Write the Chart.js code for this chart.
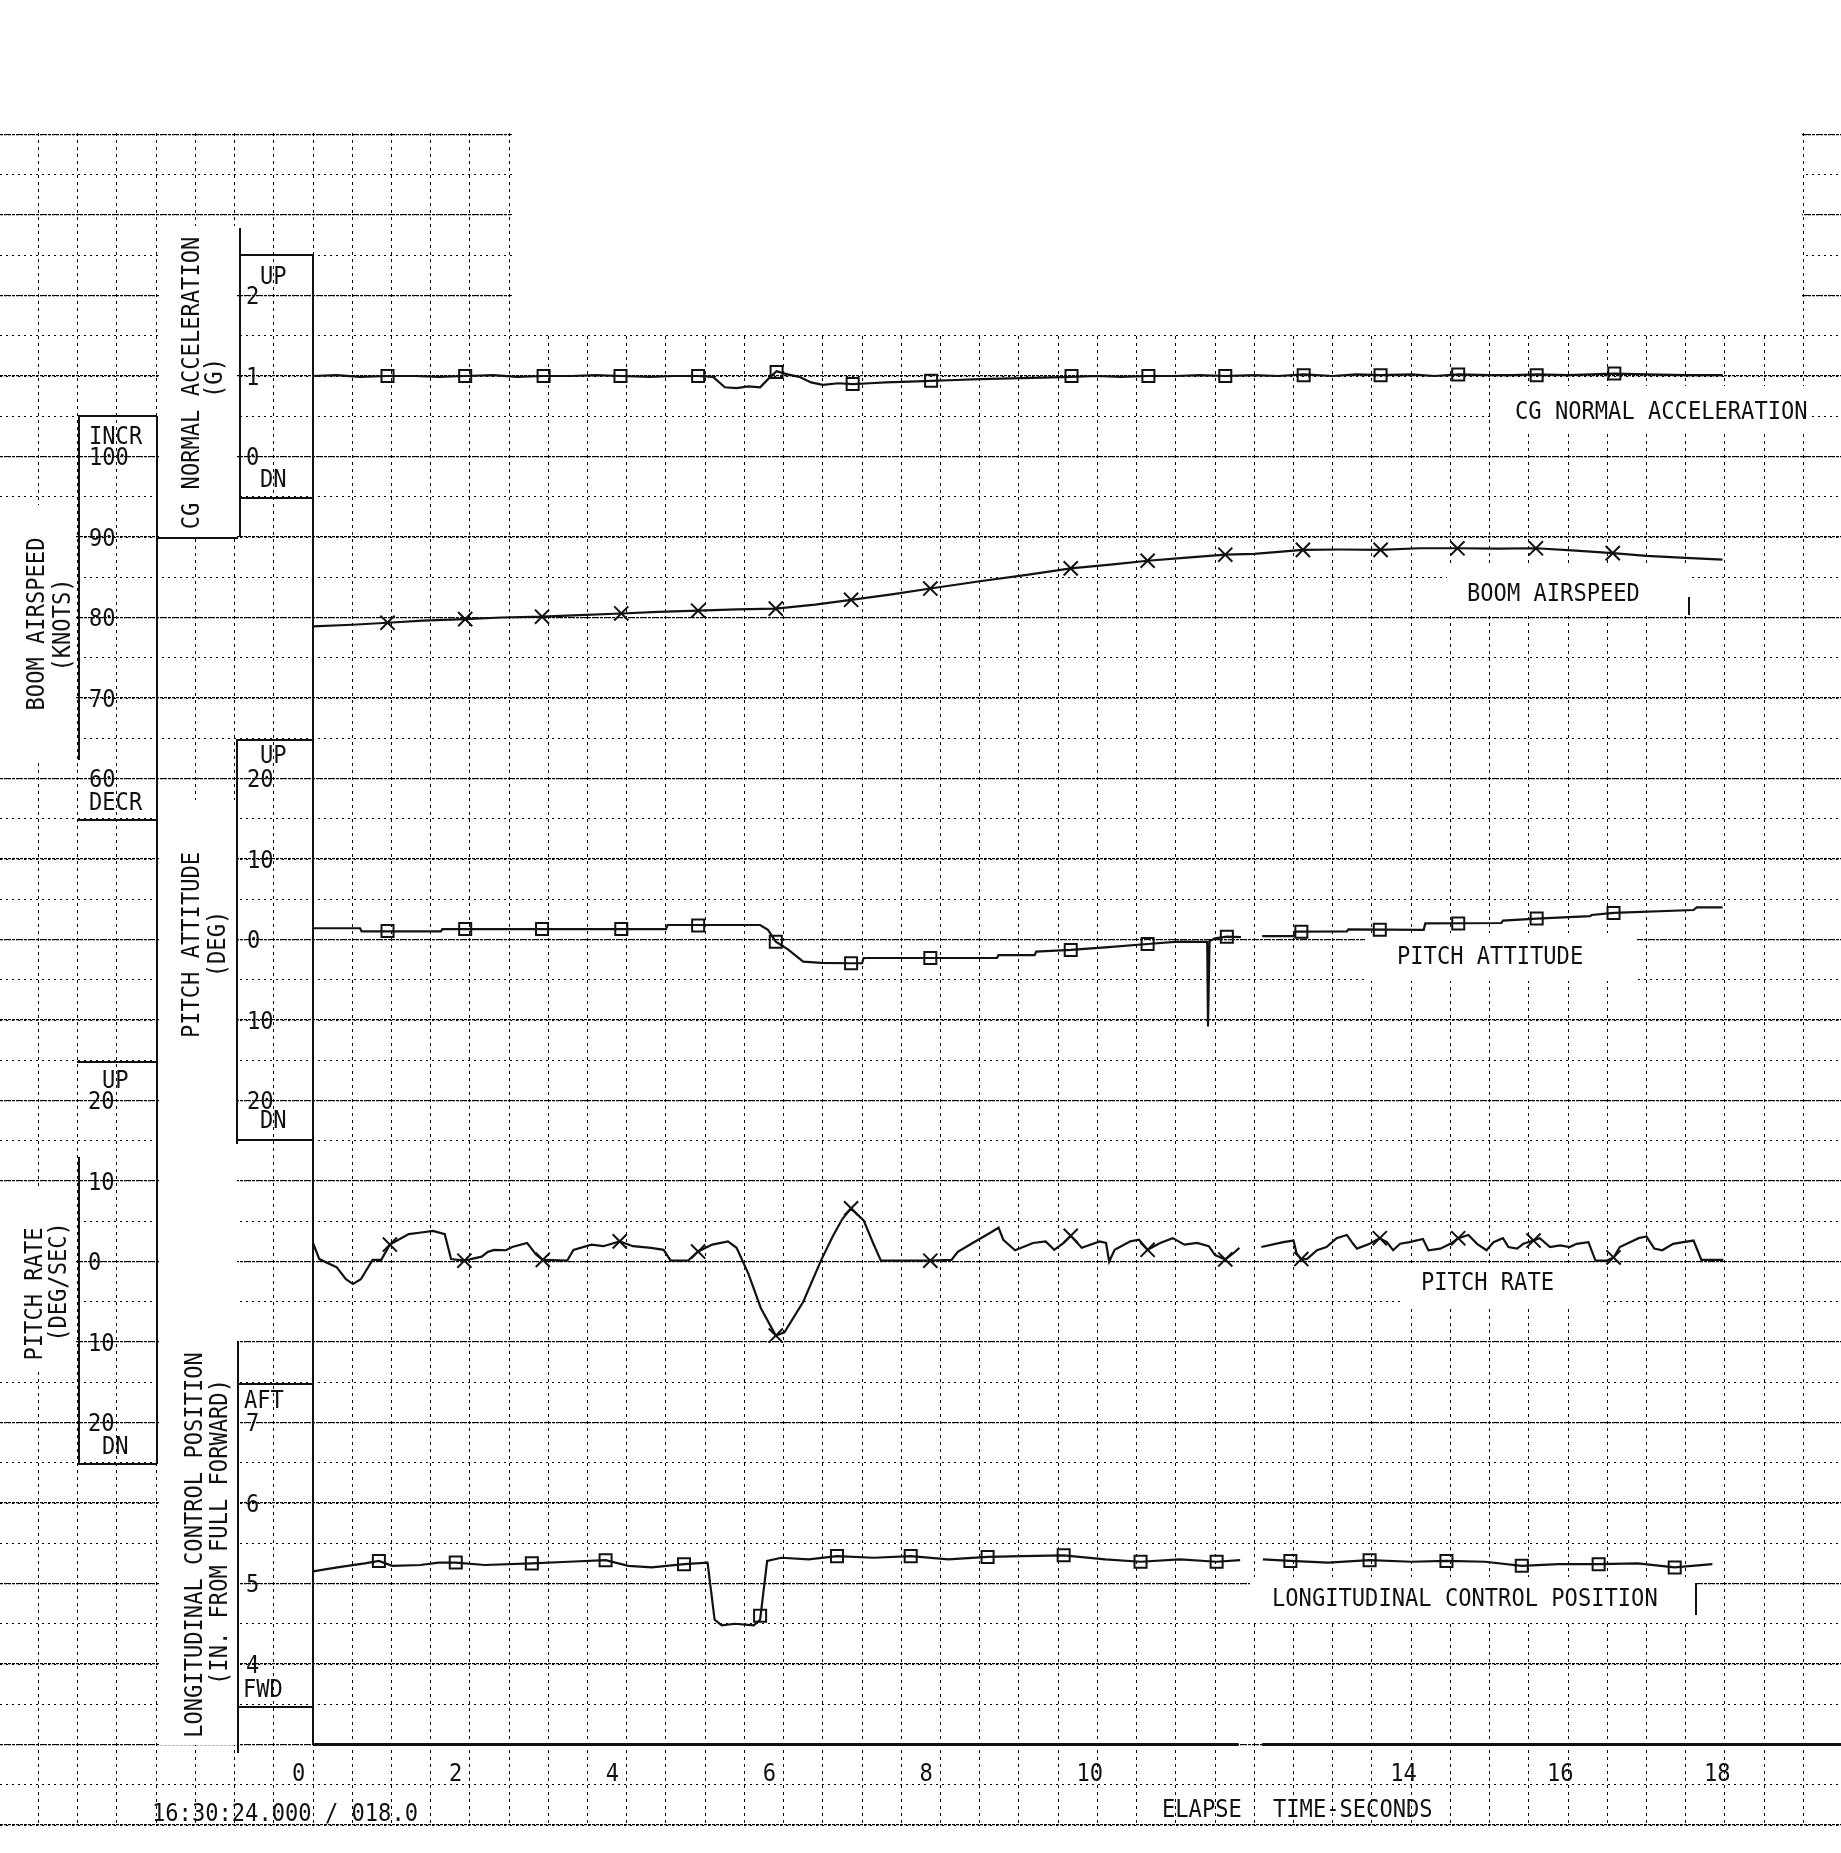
<!DOCTYPE html>
<html>
<head>
<meta charset="utf-8">
<script src="https://cdn.jsdelivr.net/npm/chart.js@4.4.0/dist/chart.umd.min.js"></script>
<style>
html, body { margin: 0; padding: 0; background: #fff; }
canvas { display: block; }
</style>
</head>
<body>
<canvas id="myChart" width="1841" height="1853"></canvas>
<script>
// elapsed time in seconds
const cgT = [0,0.3,0.6,0.95,1.3,1.6,1.94,2.3,2.6,2.94,3.3,3.6,3.92,4.3,4.6,4.91,5.1,5.25,5.4,5.55,5.7,5.82,5.91,6.05,6.2,6.35,6.5,6.7,6.88,7.1,7.3,7.6,7.88,8.2,8.5,8.9,9.3,9.67,10.0,10.3,10.65,11.0,11.3,11.63,12.0,12.3,12.63,13.0,13.3,13.61,14.0,14.3,14.6,15.0,15.3,15.6,16.0,16.3,16.59,17.0,17.5,17.97]
const cgV = [1.0,1.01,0.99,1.0,1.0,0.99,1.0,1.01,0.99,1.0,1.0,1.01,1.0,0.99,1.0,1.0,0.99,0.86,0.85,0.87,0.86,0.98,1.06,1.02,0.99,0.92,0.89,0.91,0.9,0.91,0.92,0.93,0.94,0.95,0.96,0.97,0.98,0.99,1.0,0.99,1.0,1.0,1.01,1.0,1.01,1.0,1.02,1.0,1.02,1.01,1.02,1.0,1.02,1.01,1.01,1.02,1.01,1.02,1.03,1.02,1.01,1.01]
const cgMarkT = [0.95,1.94,2.94,3.92,4.91,5.91,6.88,7.88,9.67,10.65,11.63,12.63,13.61,14.6,15.6,16.59]
const cgMarkV = [1,1,1,1,1,1.05,0.9,0.94,1,1,1,1.01,1.01,1.02,1.01,1.03]

const asT = [0,0.5,0.95,1.4,1.94,2.4,2.92,3.4,3.93,4.4,4.91,5.4,5.9,6.4,6.86,7.4,7.87,8.5,9.1,9.66,10.2,10.64,11.1,11.63,12.0,12.62,13.1,13.61,14.1,14.59,15.1,15.59,16.1,16.57,17.0,17.5,17.97]
const asV = [78.9,79.1,79.35,79.6,79.8,80.0,80.1,80.3,80.5,80.7,80.85,81.0,81.1,81.6,82.2,82.9,83.6,84.5,85.3,86.1,86.6,87.05,87.4,87.8,87.9,88.4,88.45,88.4,88.6,88.6,88.55,88.6,88.3,88.0,87.65,87.4,87.2]
const asMarkT = [0.95,1.94,2.92,3.93,4.91,5.9,6.86,7.87,9.66,10.64,11.63,12.62,13.61,14.59,15.59,16.57]
const asMarkV = [79.35,79.8,80.1,80.5,80.85,81.1,82.2,83.6,86.1,87.05,87.8,88.4,88.4,88.6,88.6,88.0]

const paT = [0,0.6,0.62,1.63,1.65,4.5,4.52,5.7,5.8,5.9,6.05,6.25,6.48,6.86,7.0,7.02,8.72,8.74,9.2,9.22,9.66,10.1,10.64,11.03,11.4,11.41,11.43,11.5,11.65,11.83,11.95,12.1,12.5,12.52,13.18,13.2,14.16,14.18,15.15,15.17,15.6,16.28,16.3,16.58,17.6,17.64,17.97]
const paV = [1.4,1.4,1.0,1.0,1.3,1.3,1.8,1.8,1.2,-0.27,-1.2,-2.75,-2.9,-2.95,-2.95,-2.3,-2.3,-1.95,-1.95,-1.5,-1.3,-0.97,-0.56,-0.27,-0.3,-10.8,-0.2,0.15,0.35,0.3,null,0.43,0.43,0.97,1.0,1.26,1.2,2.0,2.05,2.35,2.6,2.9,3.04,3.3,3.66,4.0,4.0]
const paMarkT = [0.95,1.94,2.92,3.93,4.91,5.9,6.86,7.87,9.66,10.64,11.65,12.6,13.6,14.6,15.6,16.58]
const paMarkV = [1.05,1.3,1.3,1.3,1.75,-0.27,-2.95,-2.3,-1.3,-0.56,0.35,0.97,1.2,2.0,2.6,3.3]

const prT = [0,0.08,0.3,0.42,0.51,0.61,0.76,0.87,0.98,1.22,
  1.38,1.53,1.68,1.76,1.93,2.15,2.23,2.31,2.46,2.54,
  2.73,2.85,2.93,3.24,3.32,3.55,3.7,3.91,4.08,4.31,
  4.47,4.56,4.78,4.91,5.09,5.29,5.4,5.55,5.71,5.9,
  6.01,6.25,6.48,6.63,6.75,6.86,7.02,7.14,7.24,7.87,
  8.14,8.22,8.41,8.64,8.74,8.8,8.95,9.18,9.34,9.45,
  9.57,9.66,9.8,10.03,10.11,10.15,10.22,10.42,10.53,10.64,
  10.8,10.96,11.11,11.27,11.42,11.5,11.63,11.73,11.81,11.95,
  12.09,12.37,12.5,12.54,12.6,12.67,12.8,12.92,13.05,13.18,
  13.26,13.31,13.47,13.6,13.69,13.77,13.86,13.98,14.15,14.22,
  14.37,14.5,14.6,14.73,14.84,14.96,15.05,15.17,15.24,15.35,
  15.43,15.56,15.64,15.77,15.9,16.02,16.11,16.26,16.35,16.49,
  16.58,16.66,16.79,16.9,17.0,17.1,17.2,17.34,17.47,17.6,
  17.7,17.98]
const prV = [2.3,0.3,-0.7,-2.2,-2.8,-2.2,0.2,0.2,2.1,3.4,
  3.6,3.8,3.4,0.3,0.1,0.6,1.2,1.45,1.4,1.8,
  2.3,0.8,0.2,0.1,1.45,2.1,1.9,2.5,1.9,1.7,
  1.45,0.1,0.1,1.24,2.1,2.5,1.7,-1.5,-5.8,-9.2,
  -8.8,-5.0,0.2,3.2,5.3,6.6,5.1,2.3,0.1,0.1,
  0.2,1.2,2.3,3.6,4.2,2.7,1.4,2.3,2.5,1.45,
  2.3,3.2,1.7,2.5,2.3,0.0,1.45,2.5,2.7,1.45,
  2.3,2.9,2.1,2.3,1.9,0.8,0.26,1.0,1.7,null,
  1.8,2.4,2.6,1.0,0.3,0.3,1.4,1.8,2.9,3.3,
  2.2,1.6,2.2,2.9,2.4,1.4,2.2,2.4,2.8,1.4,
  1.6,2.2,2.9,3.3,2.2,1.4,2.4,2.9,1.8,1.6,
  2.2,2.6,2.9,1.8,2.0,1.8,2.2,2.4,0.1,0.1,
  0.5,1.8,2.4,2.9,3.1,1.6,1.4,2.2,2.4,2.6,
  0.2,0.2]
const prMarkT = [0.98,1.93,2.93,3.91,4.91,5.9,6.86,7.87,9.66,10.64,11.63,12.6,13.6,14.6,15.56,16.58]
const prMarkV = [2.1,0.1,0.2,2.5,1.24,-9.2,6.6,0.1,3.2,1.45,0.26,0.3,2.9,2.9,2.6,0.5]

const lcT = [0,0.31,0.66,0.84,1.01,1.37,1.6,1.82,2.19,2.79,
  3.26,3.73,4.02,4.32,4.73,5.03,5.12,5.21,5.38,5.62,
  5.7,5.79,5.97,6.32,6.68,7.15,7.62,8.1,8.6,9.04,
  9.57,10.1,10.55,11.05,11.52,11.82,11.95,12.11,12.46,12.94,
  13.47,14.0,14.45,14.94,15.41,15.88,16.39,16.89,17.36,17.84]
const lcV = [5.15,5.2,5.25,5.28,5.22,5.23,5.26,5.26,5.23,5.25,
  5.27,5.29,5.22,5.2,5.24,5.26,4.55,4.48,4.5,4.48,
  4.55,5.28,5.32,5.3,5.34,5.32,5.34,5.3,5.33,5.34,
  5.35,5.3,5.27,5.3,5.27,5.29,null,5.3,5.28,5.26,
  5.29,5.27,5.28,5.27,5.22,5.24,5.24,5.25,5.2,5.24]
const lcMarkT = [0.84,1.82,2.79,3.73,4.73,5.7,6.68,7.62,8.6,9.57,10.55,11.52,12.46,13.47,14.45,15.41,16.39,17.36]
const lcMarkV = [5.28,5.26,5.25,5.29,5.24,4.6,5.34,5.34,5.33,5.35,5.27,5.27,5.28,5.29,5.28,5.22,5.24,5.2]

// time axis tick labels (12 is lost in the page seam)
const timeTicks = [0,2,4,6,8,10,14,16,18]

// ---- layout of the paper (pixels) ----
const W = 1841, H = 1853
const T0_PX = 313, PX_PER_SEC = 78.44
const xMin = -T0_PX / PX_PER_SEC
const xMax = (W - T0_PX) / PX_PER_SEC
// value v0 sits at pixel p0, k pixels per unit
function yRange(v0, p0, k) {
    return { min: v0 - (H - p0) / k, max: v0 + p0 / k }
}
const rCG = yRange(1, 376, 80.5)
const rAS = yRange(100, 456.5, 8.05)
const rPA = yRange(0, 939.5, 8.05)
const rPR = yRange(0, 1261.5, 8.05)
const rLC = yRange(5, 1583.5, 80.5)

const FONT = '24px "DejaVu Sans Mono", "Liberation Mono", monospace'
const CHAR_W = 13.3, CAP_H = 17.5
const INK = '#111'

// patches of bare paper (no grid): x, y, w, h
const blank = [
    [0, 0, W, 131], [512, 0, 1290, 335], [0, 1827, W, 26],
    [159, 226, 78, 311], [0, 505, 76, 255], [159, 800, 78, 945], [0, 1190, 76, 180],
    [1493, 386, 315, 46], [1447, 567, 243, 45], [1365, 933, 272, 48],
    [1400, 1265, 203, 40], [1250, 1577, 446, 43]
]
// solid plotter lines: x1, y1, x2, y2
const rules = [
    [313, 254, 313, 1745],
    [240, 228, 240, 537], [240, 255, 313, 255], [240, 498, 313, 498], [157, 538, 238, 538],
    [78, 416, 157, 416], [157, 416, 157, 1464], [79, 416, 79, 760], [78, 820, 157, 820],
    [236, 740, 313, 740], [237, 740, 237, 1144], [236, 1140, 313, 1140],
    [77, 1062, 157, 1062], [79, 1157, 79, 1464], [77, 1464, 157, 1464],
    [238, 1384, 313, 1384], [238, 1342, 238, 1753], [238, 1707, 313, 1707],
    [1689, 597, 1689, 615], [1696, 1583, 1696, 1615]
]

function pts(ts, vs) {
    return ts.map((t, i) => ({ x: t, y: vs[i] }))
}

function text(ctx, s, x, y, align) {
    ctx.textAlign = align || 'left'
    ctx.fillText(s, x, y + CAP_H / 2, s.length * CHAR_W)
}
function vtext(ctx, s, cx, cy) {
    ctx.save()
    ctx.translate(cx, cy)
    ctx.rotate(-Math.PI / 2)
    ctx.textAlign = 'center'
    ctx.fillText(s, 0, CAP_H / 2, s.length * CHAR_W)
    ctx.restore()
}

const paper = {
    id: 'paper',
    beforeDatasetsDraw(chart) {
        const { ctx, scales } = chart
        ctx.save()
        ctx.fillStyle = '#fff'
        blank.forEach(([x, y, w, h]) => ctx.fillRect(x, y, w, h))

        ctx.strokeStyle = INK
        ctx.lineWidth = 2
        ctx.setLineDash([])
        rules.forEach(([x1, y1, x2, y2]) => {
            ctx.beginPath(); ctx.moveTo(x1, y1); ctx.lineTo(x2, y2); ctx.stroke()
        })
        // time axis base line, broken at the page seam
        const base = scales.yLC.getPixelForValue(3)
        ctx.lineWidth = 3
        ctx.beginPath()
        ctx.moveTo(scales.x.getPixelForValue(0), base); ctx.lineTo(scales.x.getPixelForValue(11.8), base)
        ctx.moveTo(scales.x.getPixelForValue(12.1), base); ctx.lineTo(W, base)
        ctx.stroke()

        ctx.fillStyle = INK
        ctx.font = FONT
        // scale boxes
        const cg = v => scales.yCG.getPixelForValue(v)
        const as = v => scales.yAS.getPixelForValue(v)
        const pa = v => scales.yPA.getPixelForValue(v)
        const pr = v => scales.yPR.getPixelForValue(v)
        const lc = v => scales.yLC.getPixelForValue(v)
        ;[2, 1, 0].forEach(v => text(ctx, String(v), 246, cg(v)))
        text(ctx, 'UP', 260, cg(2) - 20); text(ctx, 'DN', 260, cg(0) + 22)
        ;[100, 90, 80, 70, 60].forEach(v => text(ctx, String(v), 89, as(v)))
        text(ctx, 'INCR', 89, as(100) - 21); text(ctx, 'DECR', 89, as(60) + 23)
        ;[20, 10, 0, -10, -20].forEach(v => text(ctx, String(Math.abs(v)), 247, pa(v)))
        text(ctx, 'UP', 260, pa(20) - 24); text(ctx, 'DN', 260, pa(-20) + 19)
        ;[20, 10, 0, -10, -20].forEach(v => text(ctx, String(Math.abs(v)), 88, pr(v)))
        text(ctx, 'UP', 102, pr(20) - 21); text(ctx, 'DN', 102, pr(-20) + 23)
        ;[7, 6, 5, 4].forEach(v => text(ctx, String(v), 246, lc(v)))
        text(ctx, 'AFT', 244, lc(7) - 23); text(ctx, 'FWD', 243, lc(4) + 24)

        // axis titles
        vtext(ctx, 'CG NORMAL ACCELERATION', 190, 383); vtext(ctx, '(G)', 213, 378)
        vtext(ctx, 'BOOM AIRSPEED', 35, 624); vtext(ctx, '(KNOTS)', 61, 625)
        vtext(ctx, 'PITCH ATTITUDE', 190, 945); vtext(ctx, '(DEG)', 216, 944)
        vtext(ctx, 'PITCH RATE', 33, 1294); vtext(ctx, '(DEG/SEC)', 57, 1282)
        vtext(ctx, 'LONGITUDINAL CONTROL POSITION', 193, 1545)
        vtext(ctx, '(IN. FROM FULL FORWARD)', 218, 1532)

        // trace names
        text(ctx, 'CG NORMAL ACCELERATION', 1515, 410)
        text(ctx, 'BOOM AIRSPEED', 1467, 592)
        text(ctx, 'PITCH ATTITUDE', 1397, 955)
        text(ctx, 'PITCH RATE', 1421, 1281)
        text(ctx, 'LONGITUDINAL CONTROL POSITION', 1272, 1597)

        // time axis
        timeTicks.forEach(t => text(ctx, String(t), scales.x.getPixelForValue(t) - 21, 1772))
        text(ctx, 'ELAPSE', 1162, 1808)
        text(ctx, 'TIME-SECONDS', 1273, 1808)
        text(ctx, '16:30:24.000 / 018.0', 152, 1812)
        ctx.restore()
    }
}

function trace(data, axis) {
    return { data, yAxisID: axis, showLine: true, borderColor: INK, borderWidth: 2.2,
        pointRadius: 0, tension: 0, spanGaps: false }
}
function marks(data, axis, style) {
    return { data, yAxisID: axis, showLine: false, pointStyle: style,
        pointRadius: style === 'rect' ? 8.5 : 10, pointBorderWidth: 2,
        pointBorderColor: INK, pointBackgroundColor: 'rgba(0,0,0,0)' }
}

const hiddenAxis = r => ({ type: 'linear', display: false, min: r.min, max: r.max })
const gridAxis = (step, dash, width) => ({
    type: 'linear', axis: 'y', position: 'left', min: rCG.min, max: rCG.max,
    afterFit: s => { s.width = 0 },
    ticks: { display: false, stepSize: step, maxTicksLimit: 1000, includeBounds: false },
    grid: { color: '#000', lineWidth: width, drawTicks: false },
    border: { display: false, dash }
})

new Chart(document.getElementById('myChart'), {
    type: 'scatter',
    data: {
        datasets: [
            trace(pts(cgT, cgV), 'yCG'), marks(pts(cgMarkT, cgMarkV), 'yCG', 'rect'),
            trace(pts(asT, asV), 'yAS'), marks(pts(asMarkT, asMarkV), 'yAS', 'crossRot'),
            trace(pts(paT, paV), 'yPA'), marks(pts(paMarkT, paMarkV), 'yPA', 'rect'),
            trace(pts(prT, prV), 'yPR'), marks(pts(prMarkT, prMarkV), 'yPR', 'crossRot'),
            trace(pts(lcT, lcV), 'yLC'), marks(pts(lcMarkT, lcMarkV), 'yLC', 'rect')
        ]
    },
    options: {
        responsive: false,
        animation: false,
        events: [],
        layout: { padding: 0, autoPadding: false },
        plugins: { legend: { display: false }, tooltip: { enabled: false } },
        scales: {
            x: {
                type: 'linear', position: 'bottom', min: xMin, max: xMax,
                afterFit: s => { s.height = 0 },
                ticks: { display: false, stepSize: 0.5, maxTicksLimit: 1000, includeBounds: false },
                grid: { color: '#000', lineWidth: 1, drawTicks: false },
                border: { display: false, dash: [3, 4] }
            },
            gridMinor: gridAxis(0.5, [2, 4], 1),
            gridMajor: gridAxis(1, [3, 1], 1.2),
            yCG: hiddenAxis(rCG),
            yAS: hiddenAxis(rAS),
            yPA: hiddenAxis(rPA),
            yPR: hiddenAxis(rPR),
            yLC: hiddenAxis(rLC)
        }
    },
    plugins: [paper]
})
</script>
</body>
</html>
